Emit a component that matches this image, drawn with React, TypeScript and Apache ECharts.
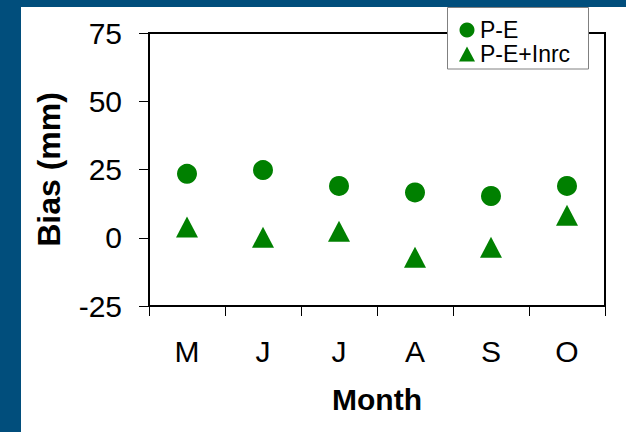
import React, { useEffect, useRef } from "react";
import * as echarts from "echarts";

const months = ["M", "J", "J", "A", "S", "O"];
const pe = [23.4, 24.8, 19.0, 16.6, 15.3, 19.0];
const peInrc = [3.9, 0.2, 2.4, -7.1, -3.5, 8.2];
const yTicks = { min: -25, max: 75, interval: 25 };

const FONT = "'Liberation Sans', Arial, sans-serif";
const GREEN = "#008000";

export default function App() {
  const ref = useRef<HTMLDivElement>(null);
  useEffect(() => {
    if (!ref.current) return;
    const chart = echarts.init(ref.current, null, { renderer: "svg" });
    chart.setOption({
      animation: false,
      grid: {
        left: 149,
        right: 21,
        top: 33,
        bottom: 126,
        show: true,
        borderColor: "#000",
        borderWidth: 2,
        backgroundColor: "transparent",
      },
      xAxis: {
        type: "category",
        data: months,
        boundaryGap: true,
        name: "Month",
        nameLocation: "middle",
        nameGap: 78,
        nameTextStyle: { fontFamily: FONT, fontSize: 30, fontWeight: "bold", color: "#000" },
        axisLine: { onZero: false, lineStyle: { color: "#000", width: 2 } },
        axisTick: { show: true, length: 10, alignWithLabel: false, lineStyle: { color: "#000", width: 1 } },
        axisLabel: { margin: 30, fontFamily: FONT, fontSize: 30, color: "#000" },
        splitLine: { show: false },
      },
      yAxis: {
        type: "value",
        min: yTicks.min,
        max: yTicks.max,
        interval: yTicks.interval,
        name: "Bias (mm)",
        nameLocation: "middle",
        nameGap: 84,
        nameTextStyle: { fontFamily: FONT, fontSize: 32, fontWeight: "bold", color: "#000" },
        axisLine: { show: true, onZero: false, lineStyle: { color: "#000", width: 2 } },
        axisTick: { show: true, inside: false, length: 10, lineStyle: { color: "#000", width: 1 } },
        axisLabel: { margin: 27, fontFamily: FONT, fontSize: 30, color: "#000" },
        splitLine: { show: false },
      },
      legend: {
        orient: "vertical",
        left: 459,
        top: 18,
        z: 100,
        itemWidth: 16,
        itemHeight: 15,
        itemGap: 0,
        padding: 0,
        data: [
          { name: "P-E", icon: "circle" },
          { name: "P-E+Inrc", icon: "triangle" },
        ],
        textStyle: { fontFamily: FONT, fontSize: 23, color: "#000", lineHeight: 24 },
      },
      graphic: [
        {
          type: "rect",
          z: 50,
          shape: { x: 447.5, y: 7.5, width: 141, height: 61.5 },
          style: { fill: "#fff", stroke: "#808080", lineWidth: 1 },
        },
      ],
      series: [
        {
          name: "P-E",
          type: "scatter",
          data: pe,
          symbol: "circle",
          symbolSize: 20,
          itemStyle: { color: GREEN, opacity: 1 },
        },
        {
          name: "P-E+Inrc",
          type: "scatter",
          data: peInrc,
          symbol: "triangle",
          symbolSize: [22, 21],
          itemStyle: { color: GREEN, opacity: 1 },
        },
      ],
    });
    return () => chart.dispose();
  }, []);

  return (
    <div style={{ position: "fixed", left: 0, top: 0, width: 626, height: 432, background: "#014E7C" }}>
      <div style={{ position: "absolute", left: 21, top: 7, width: 605, height: 425, background: "#fff" }} />
      <div ref={ref} style={{ position: "absolute", left: 0, top: 0, width: 626, height: 432 }} />
    </div>
  );
}
